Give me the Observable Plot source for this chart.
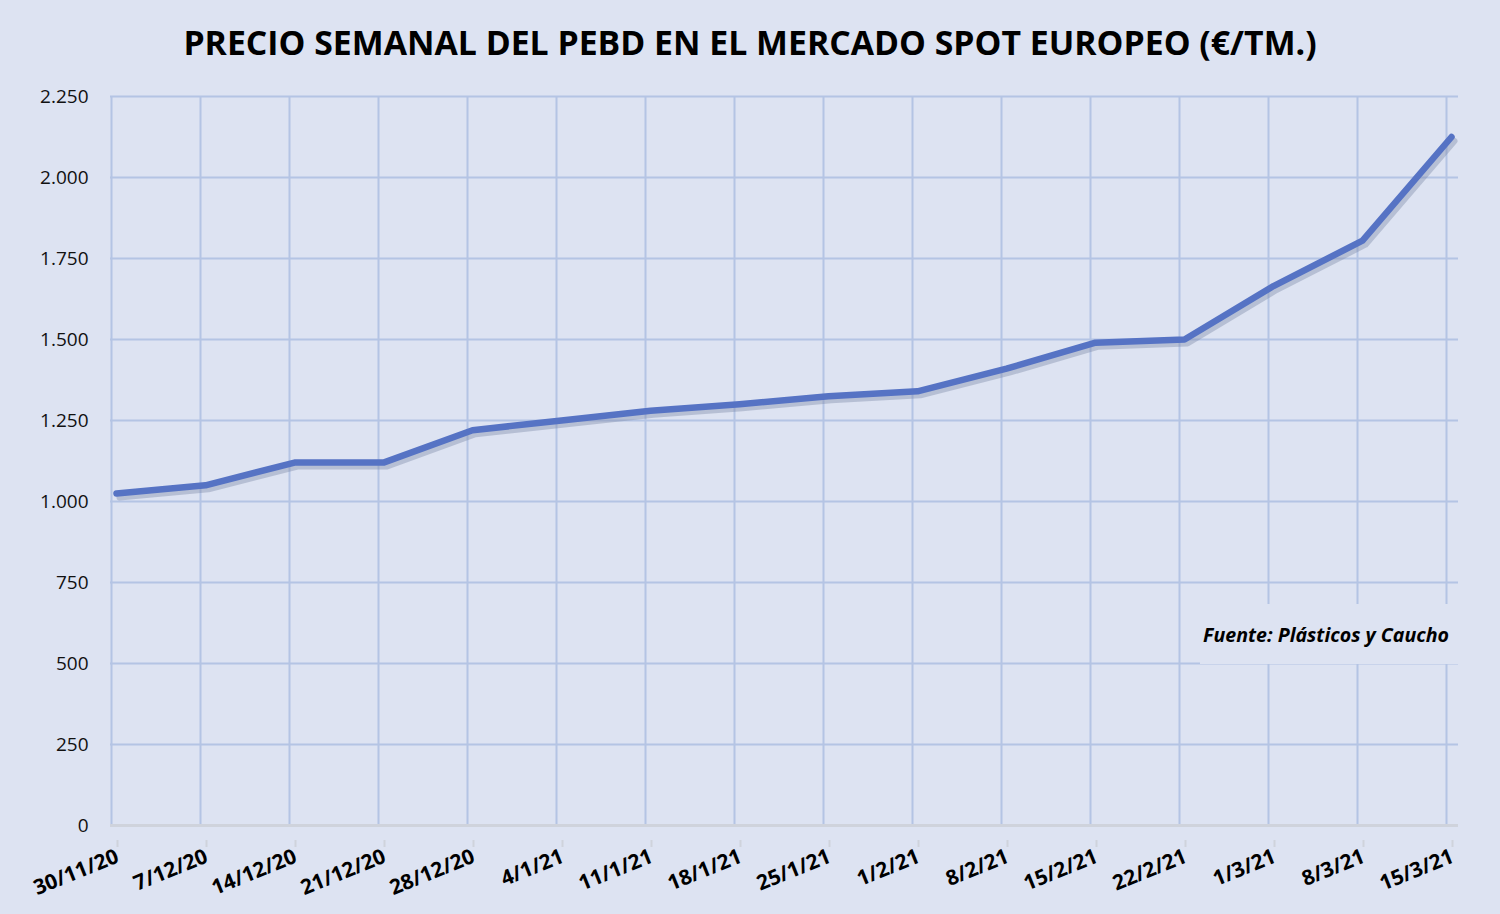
<!DOCTYPE html>
<html>
<head>
<meta charset="utf-8">
<script src="https://cdn.jsdelivr.net/npm/d3@7"></script>
<script src="https://cdn.jsdelivr.net/npm/@observablehq/plot@0.6"></script>
<style>
  html, body { margin: 0; padding: 0; background: #dde3f2; }
  #wrap { width: 1500px; height: 914px; position: relative; background: #dde3f2; overflow: hidden; }
  #title { height: 80px; line-height: 84px; text-align: center; font-family: "Open Sans", sans-serif; font-weight: 700; font-size: 33.8px; color: #000; }
  #source { position: absolute; left: 1200px; top: 604px; width: 258px; height: 60px; background: #dde3f2; font-family: "Open Sans", sans-serif; font-weight: 700; font-style: italic; font-size: 19.6px; line-height: 62px; color: #000; }
  #source span { position: absolute; right: 9px; white-space: nowrap; }
</style>
</head>
<body>
<div id="wrap">
  <div id="title">PRECIO SEMANAL DEL PEBD EN EL MERCADO SPOT EUROPEO (€/TM.)</div>
  <div id="chart"></div>
  <div id="source"><span>Fuente: Plásticos y Caucho</span></div>
</div>
<script>
const weeks = ["30/11/20","7/12/20","14/12/20","21/12/20","28/12/20","4/1/21","11/1/21","18/1/21","25/1/21","1/2/21","8/2/21","15/2/21","22/2/21","1/3/21","8/3/21","15/3/21"];
const prices = [1025, 1050, 1120, 1120, 1220, 1250, 1280, 1300, 1325, 1340, 1410, 1490, 1500, 1665, 1805, 2125];
const yTicks = [0, 250, 500, 750, 1000, 1250, 1500, 1750, 2000, 2250];

const data = weeks.map((w, i) => ({week: w, price: prices[i]}));
const fmt = d3.formatLocale({decimal: ",", thousands: ".", grouping: [3]}).format(",d");

const chart = Plot.plot({
  width: 1500,
  height: 834,
  marginLeft: 110,
  marginRight: 54,
  marginTop: 16,
  marginBottom: 89,
  style: {background: "#dde3f2", fontFamily: "Open Sans, sans-serif", color: "#000", overflow: "visible"},
  x: {type: "point", domain: weeks, padding: 0},
  y: {domain: [0, 2250]},
  marks: [
    Plot.ruleY(yTicks, {y: d => d, stroke: "#b4c4e4", strokeWidth: 2, insetRight: -12}),
    Plot.ruleX(weeks, {x: d => d, stroke: "#b4c4e4", strokeWidth: 2}),
    Plot.ruleY([0], {stroke: "#cfd3dc", strokeWidth: 3, insetRight: -12}),
    Plot.axisY({ticks: yTicks, tickFormat: fmt, tickSize: 0, tickPadding: 22, fontSize: 19, fill: "#111", label: null}),
    Plot.axisX({tickSize: 7, tickPadding: 8, stroke: "#cfd3dc", strokeWidth: 2, tickRotate: -22, fontSize: 21, fontWeight: 700, fill: "#000", label: null, dx: 6, dy: 15}),
    Plot.line(data, {x: "week", y: "price", stroke: "#7d8aa8", strokeWidth: 6, strokeOpacity: 0.4, dx: 8, dy: 4, strokeLinejoin: "round"}),
    Plot.line(data, {x: "week", y: "price", stroke: "#5673c4", strokeWidth: 6.5, dx: 5, strokeLinejoin: "round", strokeLinecap: "round"})
  ]
});
document.getElementById("chart").appendChild(chart);
</script>
</body>
</html>
